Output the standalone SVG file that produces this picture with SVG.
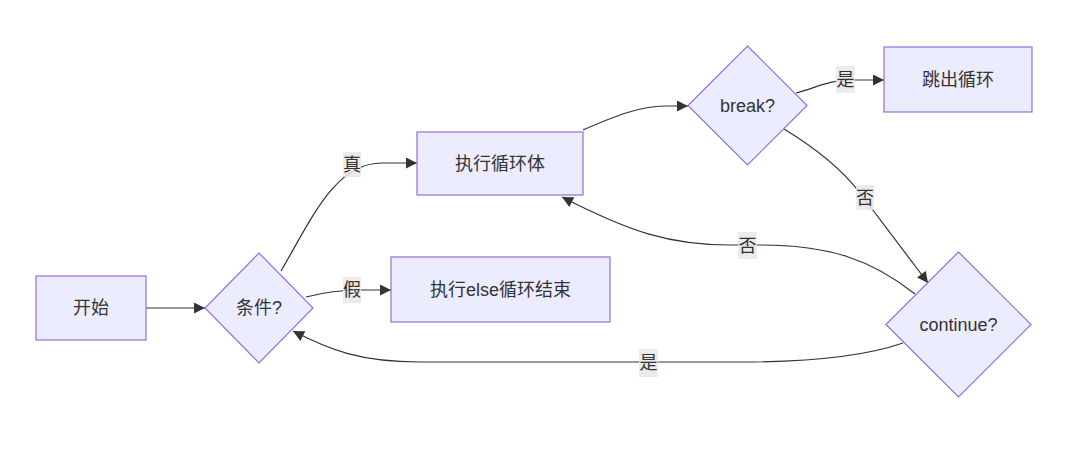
<svg xmlns="http://www.w3.org/2000/svg" width="1080" height="449" viewBox="0 0 1080 449">
<style>
.node rect,.node polygon{fill:#ECECFF;stroke:#9370DB;stroke-width:1.2}
.node text,.lbl text{font-family:"Liberation Sans","Noto Sans CJK SC",sans-serif;font-size:18px;fill:#333;text-anchor:middle;dominant-baseline:central}
.edge{fill:none;stroke:#333;stroke-width:1.2;marker-end:url(#arr)}
.lbl rect{fill:#e8e8e8;opacity:0.85}
</style>
<defs>
<marker id="arr" viewBox="0 0 10 10" refX="10" refY="5" markerUnits="userSpaceOnUse" markerWidth="12" markerHeight="11" orient="auto">
<path d="M0,0 L10,5 L0,10 z" fill="#333"/>
</marker>
</defs>
<rect width="1080" height="449" fill="#fff"/>
<g id="connectors">
<path class="edge" d="M146,308 L205,308"/>
<path class="edge" d="M281,271 C312,218 335,163 382,163 L417,163"/>
<path class="edge" d="M306,297 C325,292 340,290 360,290 L391,290"/>
<path class="edge" d="M583,130 C615,116 640,106 665,106 L688,106"/>
<path class="edge" d="M796,93 C815,88 830,80 850,80 L884,80"/>
<path class="edge" d="M784,129 Q835,160 860,193 L928,283"/>
<path class="edge" d="M915,294 C872,260 830,245 760,245 L730,245 C670,245 630,232 562,197"/>
<path class="edge" d="M903,343 C860,358 800,362 740,362 L420,362 C360,362 330,350 293,331"/>
</g>
<g id="labels">
<g class="lbl"><rect x="343" y="152" width="18" height="25"/><text x="352" y="164.5">真</text></g>
<g class="lbl"><rect x="343" y="277" width="18" height="26"/><text x="352" y="290">假</text></g>
<g class="lbl"><rect x="836" y="66" width="19" height="27"/><text x="845.5" y="79.5">是</text></g>
<g class="lbl"><rect x="856" y="185" width="18" height="25"/><text x="865" y="197.5">否</text></g>
<g class="lbl"><rect x="738" y="232" width="19" height="27"/><text x="747.5" y="245.5">否</text></g>
<g class="lbl"><rect x="639" y="349" width="19" height="28"/><text x="648.5" y="363">是</text></g>
</g>
<g id="start" class="node"><rect x="36" y="276" width="110" height="64"/><text x="91" y="308">开始</text></g>
<g id="cond" class="node"><polygon points="259,253 313,308 259,363 205,308"/><text x="259" y="308">条件?</text></g>
<g id="body" class="node"><rect x="417" y="132" width="166" height="63"/><text x="500" y="163.5">执行循环体</text></g>
<g id="elseend" class="node"><rect x="391" y="257" width="219" height="65"/><text x="500.5" y="289.5">执行else循环结束</text></g>
<g id="brk" class="node"><polygon points="747.5,46 807,105.5 747.5,165 688,105.5"/><text x="747.5" y="105.5">break?</text></g>
<g id="exit" class="node"><rect x="884" y="47" width="148" height="65"/><text x="958" y="79.5">跳出循环</text></g>
<g id="cont" class="node"><polygon points="958.5,252 1031,324.5 958.5,397 886,324.5"/><text x="958.5" y="324.5">continue?</text></g>
</svg>
